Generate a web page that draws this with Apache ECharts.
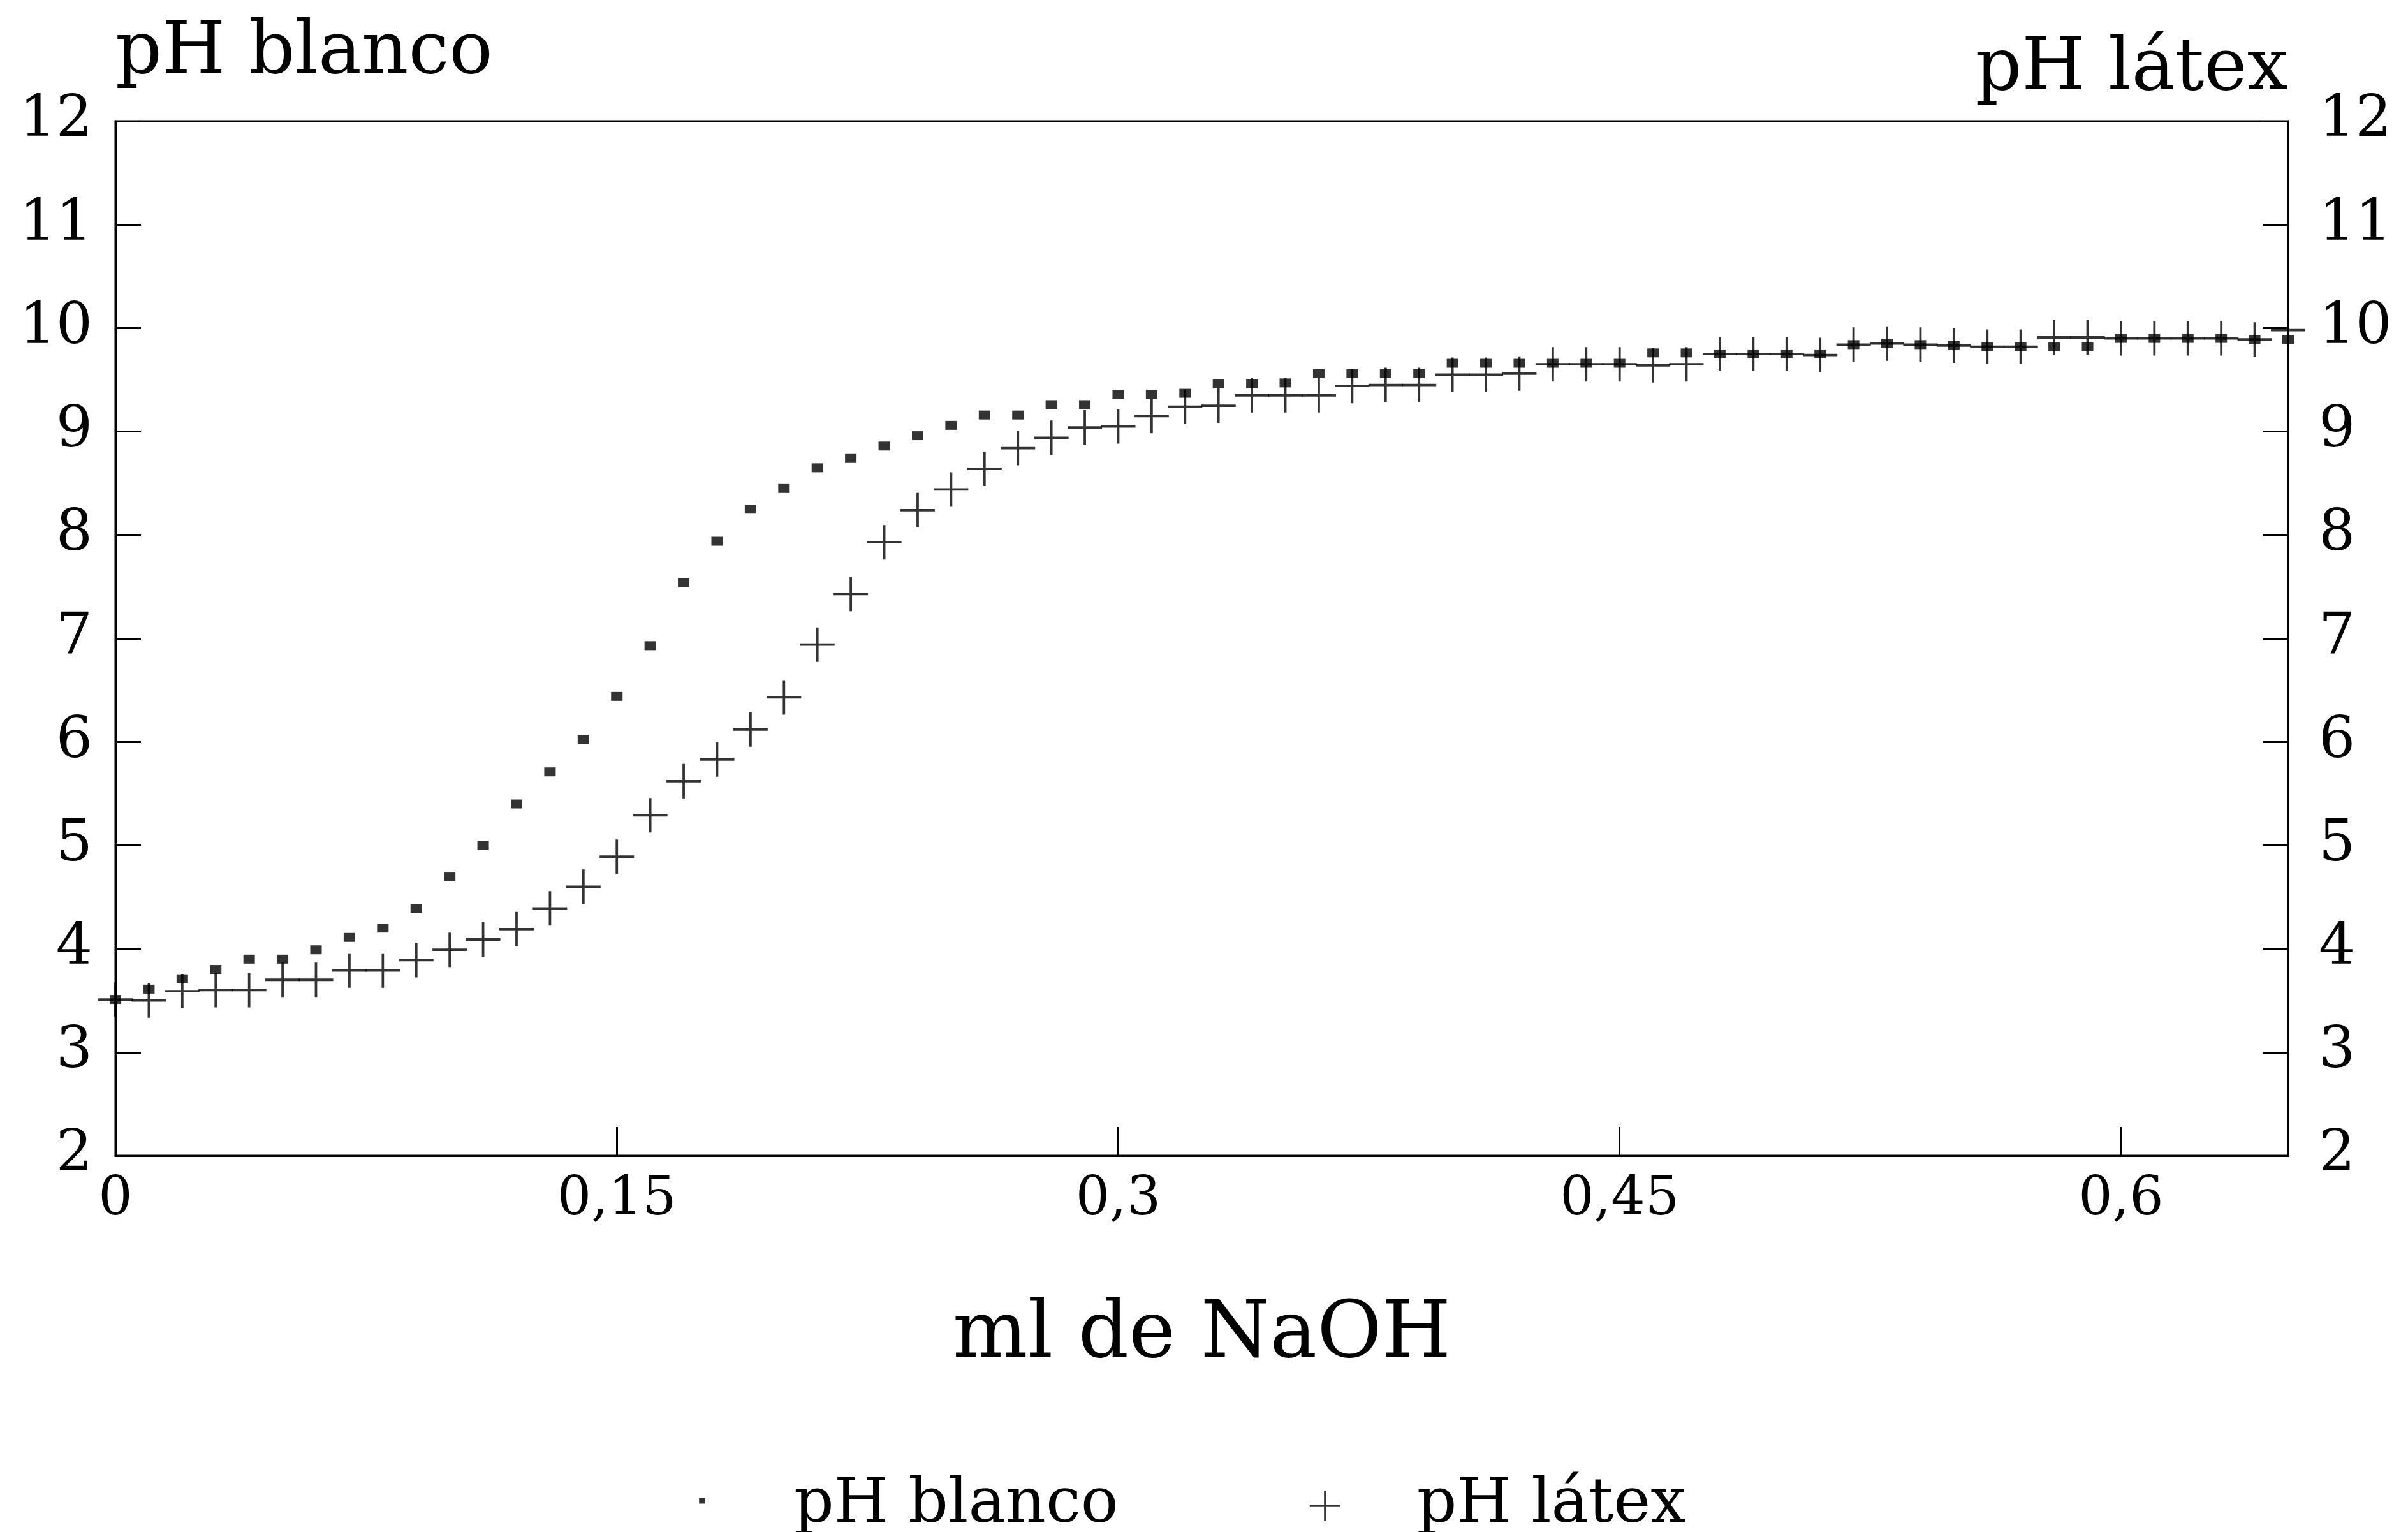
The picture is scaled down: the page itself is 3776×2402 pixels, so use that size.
<!DOCTYPE html>
<html>
<head>
<meta charset="utf-8">
<script src="https://cdn.jsdelivr.net/npm/echarts@6/dist/echarts.min.js"></script>
<style>
  html, body { margin: 0; padding: 0; background: #ffffff; }
  #chart { width: 3776px; height: 2402px; }
</style>
</head>
<body>
<div id="chart"></div>
<script>
// ---- data ----
const mlNaOH = [0.00,0.01,0.02,0.03,0.04,0.05,0.06,0.07,0.08,0.09,
                0.10,0.11,0.12,0.13,0.14,0.15,0.16,0.17,0.18,0.19,
                0.20,0.21,0.22,0.23,0.24,0.25,0.26,0.27,0.28,0.29,
                0.30,0.31,0.32,0.33,0.34,0.35,0.36,0.37,0.38,0.39,
                0.40,0.41,0.42,0.43,0.44,0.45,0.46,0.47,0.48,0.49,
                0.50,0.51,0.52,0.53,0.54,0.55,0.56,0.57,0.58,0.59,
                0.60,0.61,0.62,0.63,0.64,0.65];
const phBlanco = [3.51,3.61,3.71,3.80,3.90,3.90,3.99,4.11,4.20,4.39,
                  4.70,5.00,5.40,5.71,6.02,6.44,6.93,7.54,7.94,8.25,
                  8.45,8.65,8.74,8.86,8.96,9.06,9.16,9.16,9.26,9.26,
                  9.36,9.36,9.37,9.46,9.46,9.47,9.56,9.56,9.56,9.56,
                  9.66,9.66,9.66,9.66,9.66,9.66,9.76,9.76,9.75,9.75,
                  9.75,9.75,9.84,9.85,9.84,9.83,9.82,9.82,9.82,9.82,
                  9.90,9.90,9.90,9.90,9.89,9.89];
const phLatex = [3.51,3.50,3.59,3.60,3.60,3.70,3.70,3.79,3.79,3.89,
                 3.99,4.09,4.19,4.39,4.60,4.89,5.29,5.62,5.83,6.12,
                 6.43,6.94,7.43,7.93,8.24,8.44,8.64,8.84,8.94,9.04,
                 9.05,9.15,9.24,9.25,9.35,9.35,9.35,9.44,9.45,9.45,
                 9.55,9.55,9.56,9.65,9.65,9.65,9.64,9.65,9.75,9.75,
                 9.75,9.74,9.84,9.85,9.84,9.83,9.82,9.82,9.91,9.91,
                 9.90,9.90,9.90,9.90,9.89,9.98];
const xTickValues = [0, 0.15, 0.3, 0.45, 0.6];
const xTickLabels = ['0', '0,15', '0,3', '0,45', '0,6'];
const seriesNames = ['pH blanco', 'pH látex'];
const xAxisTitle = 'ml de NaOH';

// ---- chart ----
const FONT = '"DejaVu Serif", serif';
const crossPath = 'path://M-1,-0.07 L1,-0.07 L1,0.07 L-1,0.07 Z M-0.07,-1 L0.07,-1 L0.07,1 L-0.07,1 Z';
const dotLegendPath = 'path://M-1,-1 L-1,-1 Z M1,1 L1,1 Z M-0.2,-0.5 L0.2,-0.5 L0.2,-0.15 L-0.2,-0.15 Z';

function xLabel(v) {
  for (let i = 0; i < xTickValues.length; i++) {
    if (Math.abs(v - xTickValues[i]) < 1e-6) return xTickLabels[i];
  }
  return '';
}

const chart = echarts.init(document.getElementById('chart'), null, { renderer: 'canvas' });
const yAxisCommon = {
  type: 'value', min: 2, max: 12, interval: 1,
  splitLine: { show: false },
  axisLine: { show: true, lineStyle: { color: '#000', width: 3 } },
  axisTick: { show: true, inside: true, length: 40, lineStyle: { color: '#000', width: 3 } },
  nameLocation: 'end',
  nameGap: 106,
};
chart.setOption({
  animation: false,
  backgroundColor: '#ffffff',
  grid: { left: 181, right: 188, top: 190, bottom: 590, show: true, borderColor: '#000', borderWidth: 3, backgroundColor: 'transparent' },
  xAxis: {
    type: 'value', min: 0, max: 0.65, interval: 0.15,
    splitLine: { show: false },
    axisLine: { show: true, lineStyle: { color: '#000', width: 3 } },
    axisTick: { show: true, inside: true, length: 45, lineStyle: { color: '#000', width: 3 } },
    axisLabel: { show: true, margin: 28, fontSize: 84, fontFamily: FONT, color: '#000', showMaxLabel: false, formatter: xLabel },
    name: xAxisTitle,
    nameLocation: 'middle',
    nameGap: 283,
    nameTextStyle: { fontSize: 124, fontFamily: FONT, color: '#000', verticalAlign: 'middle' }
  },
  yAxis: [
    Object.assign({}, yAxisCommon, {
      position: 'left',
      name: seriesNames[0],
      nameTextStyle: { fontSize: 114, fontFamily: FONT, color: '#000', align: 'left', verticalAlign: 'middle' },
      axisLabel: { margin: 36, fontSize: 90, fontFamily: FONT, color: '#000' }
    }),
    Object.assign({}, yAxisCommon, {
      position: 'right',
      name: seriesNames[1],
      nameGap: 80,
      nameTextStyle: { fontSize: 114, fontFamily: FONT, color: '#000', align: 'right', verticalAlign: 'middle' },
      axisLabel: { margin: 48, fontSize: 90, fontFamily: FONT, color: '#000' }
    })
  ],
  legend: {
    left: 1072, top: 2306,
    itemWidth: 48, itemHeight: 60, itemGap: 300,
    textStyle: { fontSize: 98, lineHeight: 100, fontFamily: FONT, color: '#000', padding: [0, 0, 0, 115] },
    data: [
      { name: seriesNames[0], icon: dotLegendPath },
      { name: seriesNames[1] }
    ]
  },
  series: [
    {
      name: seriesNames[1], type: 'scatter', yAxisIndex: 1,
      symbol: crossPath, symbolSize: [54, 54],
      itemStyle: { color: '#000' },
      data: mlNaOH.map((x, i) => [x, phLatex[i]])
    },
    {
      name: seriesNames[0], type: 'scatter', yAxisIndex: 0,
      symbol: 'rect', symbolSize: [18, 14],
      itemStyle: { color: '#000' },
      data: mlNaOH.map((x, i) => [x, phBlanco[i]])
    }
  ]
});
</script>
</body>
</html>
